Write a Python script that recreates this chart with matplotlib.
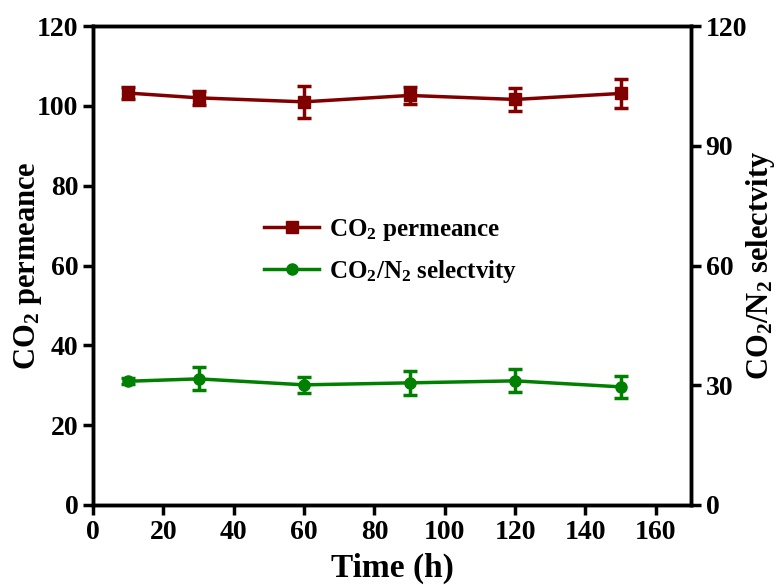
import matplotlib
matplotlib.use("Agg")
import matplotlib.pyplot as plt

plt.rcParams['font.family'] = 'Liberation Serif'
plt.rcParams['font.weight'] = 'bold'
plt.rcParams['mathtext.fontset'] = 'custom'
plt.rcParams['mathtext.rm'] = 'Liberation Serif:bold'
plt.rcParams['mathtext.it'] = 'Liberation Serif:bold'
plt.rcParams['mathtext.bf'] = 'Liberation Serif:bold'

time_h = [10, 30, 60, 90, 120, 150]
permeance = [103.2, 102.0, 101.0, 102.6, 101.6, 103.1]
permeance_err = [1.5, 1.8, 4.0, 2.1, 2.8, 3.6]
selectivity = [31.0, 31.6, 30.1, 30.6, 31.1, 29.6]
selectivity_err = [0.8, 2.9, 2.0, 3.0, 2.9, 2.8]

x_ticks = [0, 20, 40, 60, 80, 100, 120, 140, 160]
left_ticks = [0, 20, 40, 60, 80, 100, 120]
right_ticks = [0, 30, 60, 90, 120]

red = '#800000'
green = '#008000'

fig = plt.figure(figsize=(7.82, 5.85), dpi=100)
ax = fig.add_axes([93/782, 1-505/585, (691-93)/782, (505-26)/585])
ax2 = ax.twinx()

l1 = ax.errorbar(time_h, permeance, yerr=permeance_err, color=red, marker='s',
                 markersize=8, lw=2.5, elinewidth=2.5, capsize=5, capthick=2.5,
                 label='CO$_2$ permeance')
l2 = ax2.errorbar(time_h, selectivity, yerr=selectivity_err, color=green, marker='o',
                  markersize=8, lw=2.5, elinewidth=2.5, capsize=5, capthick=2.5,
                  label='CO$_2$/N$_2$ selectvity')

ax.set_xlim(0, 170)
ax.set_ylim(0, 120)
ax2.set_ylim(0, 120)
ax.set_xticks(x_ticks)
ax.set_yticks(left_ticks)
ax2.set_yticks(right_ticks)

for a in (ax, ax2):
    for s in a.spines.values():
        s.set_linewidth(2.5)
    a.tick_params(width=2.5, length=7, labelsize=20, direction='out')

ax.set_xlabel('Time (h)', fontsize=24, fontweight='bold', labelpad=6)
ax.set_ylabel('CO$_2$ permeance', fontsize=22, fontweight='bold')
ax2.set_ylabel('CO$_2$/N$_2$ selectvity', fontsize=22, fontweight='bold')
ax.yaxis.set_label_coords(-0.082, 0.5)
ax2.yaxis.set_label_coords(1.088, 0.5)

handles = [l1[0], l2[0]]
labels = ['CO$_2$ permeance', 'CO$_2$/N$_2$ selectvity']
ax.legend(handles, labels, loc='center left', bbox_to_anchor=(0.27, 0.53),
          frameon=False, fontsize=18, handlelength=2.2, handletextpad=0.4,
          borderaxespad=0, labelspacing=0.6)

fig.savefig('out.png', dpi=100)
